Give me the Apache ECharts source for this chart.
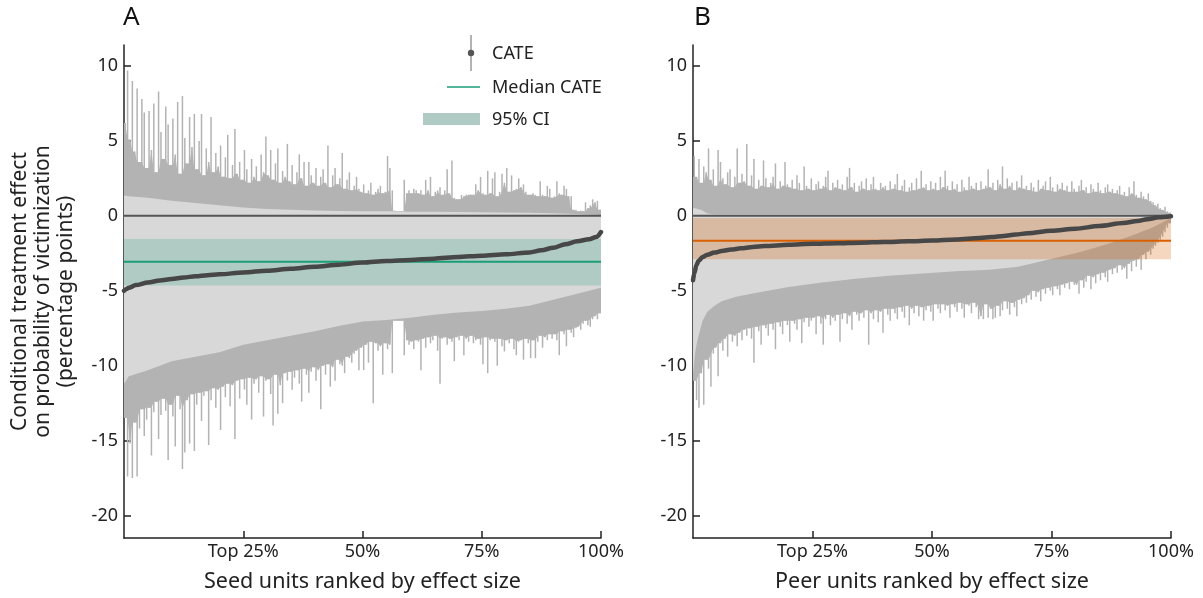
<!DOCTYPE html>
<html><head><meta charset="utf-8">
<script src="https://cdn.jsdelivr.net/npm/echarts@6/dist/echarts.min.js"></script>
<style>html,body{margin:0;padding:0;background:#fff}#c{width:1203px;height:598px}</style>
</head><body><div id="c"></div>
<script>
// ---------- DATA ----------
const xTicks = [25, 50, 75, 100];
const xTickLabels = ['Top 25%', '50%', '75%', '100%'];
const yTicks = [-20, -15, -10, -5, 0, 5, 10];

// Panel A: seed units
const seedCatePct = [0,0.5,1,2.5,5,7.5,10,12.5,15,17.5,20,25,30,35,40,45,50,55,60,65,70,75,80,85,87.5,90,92.5,95,97.5,99,100];
const seedCate = [-5.0,-4.88,-4.8,-4.62,-4.45,-4.32,-4.22,-4.12,-4.03,-3.96,-3.9,-3.78,-3.66,-3.53,-3.4,-3.26,-3.12,-3.01,-2.94,-2.86,-2.75,-2.66,-2.57,-2.44,-2.3,-2.13,-1.9,-1.7,-1.56,-1.42,-1.08];
const seedMedian = -3.07;
const seedMedianCI = [-1.55, -4.65];
const seedUpper = [
 6.2,9.7,5.1,9.0,4.3,8.5,3.6,7.8,6.9,3.2,7.0,4.4,7.5,2.9,8.3,5.6,3.8,7.3,6.1,3.4,
 6.5,4.1,7.6,2.8,8.0,5.2,3.5,6.6,4.6,6.8,3.1,5.0,6.8,2.7,4.5,3.6,6.6,2.9,4.2,3.3,
 4.7,2.6,3.9,5.4,2.5,3.4,5.8,2.8,3.6,2.4,4.4,3.1,2.2,3.8,2.6,3.3,2.3,4.1,2.9,5.3,
 2.7,4.4,2.4,3.5,4.5,2.2,3.0,2.6,4.8,2.3,3.4,2.1,2.9,4.1,2.5,3.6,2.0,3.6,2.7,2.2,
 3.2,2.0,2.6,3.1,2.2,4.7,1.9,2.7,3.2,2.1,2.5,4.2,1.8,2.4,2.9,1.7,2.0,2.6,1.8,1.6,
 2.1,1.5,1.7,2.2,1.4,1.6,1.8,2.0,1.5,1.6,4.0,3.2,1.7,0.35,0.3,0.3,0.3,2.4,1.5,1.7,
 1.5,1.8,1.7,1.5,1.7,1.4,2.4,1.7,2.6,1.3,1.6,1.7,1.9,1.4,1.7,3.1,1.5,3.7,1.2,1.1,
 1.1,1.4,1.3,1.4,1.4,1.4,1.4,2.1,1.7,2.6,1.5,1.4,3.0,1.5,2.5,2.9,1.3,1.6,2.8,2.2,
 3.2,1.6,2.7,1.7,1.8,2.5,1.9,2.1,1.6,1.4,1.4,1.5,1.4,1.3,2.3,1.4,1.3,2.0,1.8,1.2,
 1.3,2.3,1.5,1.4,2.0,1.8,1.3,1.3,0.4,0.4,0.3,0.35,0.3,0.9,0.5,0.7,1.1,0.9,1.0,0.4];
const seedLower = [
 -13.5,-17.4,-15.2,-17.5,-13.8,-17.4,-14.2,-12.9,-14.7,-13.6,-12.8,-16.0,-13.1,-12.4,-14.9,-13.3,-12.2,-13.0,-16.3,-12.6,
 -13.4,-15.4,-12.0,-12.9,-16.9,-15.8,-12.3,-15.2,-11.9,-15.7,-12.6,-11.8,-13.7,-12.0,-11.7,-15.3,-12.3,-11.5,-12.8,-11.6,
 -14.3,-11.4,-12.1,-11.2,-12.7,-11.3,-14.9,-11.0,-12.2,-10.9,-11.6,-12.6,-10.8,-13.6,-11.2,-10.9,-11.8,-10.7,-13.4,-11.0,
 -10.9,-11.9,-14.0,-10.6,-13.2,-11.3,-12.5,-10.5,-11.0,-10.4,-11.6,-10.8,-10.3,-11.2,-12.4,-10.2,-10.6,-11.8,-10.4,-10.1,
 -11.0,-10.3,-12.9,-10.0,-10.6,-9.9,-11.4,-10.1,-11.0,-9.6,-9.9,-10.0,-10.5,-9.4,-9.5,-9.8,-9.2,-9.0,-10.3,-8.8,
 -10.3,-8.6,-9.8,-8.4,-12.5,-8.5,-9.0,-8.7,-10.6,-8.5,-8.9,-8.6,-10.5,-7.0,-7.0,-7.0,-7.0,-9.3,-8.3,-8.6,
 -8.4,-8.9,-8.3,-8.4,-10.3,-8.2,-8.8,-8.1,-8.5,-8.3,-8.0,-9.0,-11.2,-8.2,-8.1,-8.6,-8.2,-8.4,-9.7,-8.1,
 -8.3,-8.0,-9.3,-8.2,-8.4,-8.0,-8.5,-8.3,-8.2,-8.6,-9.9,-8.1,-10.5,-8.3,-8.2,-8.4,-10.0,-8.2,-8.7,-9.05,
 -8.3,-8.5,-8.2,-8.9,-9.3,-8.4,-8.3,-9.6,-8.2,-8.5,-9.5,-8.3,-9.5,-8.4,-8.0,-8.8,-8.1,-8.3,-7.9,-8.2,
 -7.9,-8.3,-9.3,-7.7,-7.9,-8.7,-7.6,-7.8,-8.1,-7.5,-7.4,-7.6,-7.2,-7.0,-7.3,-7.4,-6.9,-6.7,-6.9,-6.5];
const seedBandPct = [0,1,5,10,15,20,25,30,35,40,45,50,55,60,65,70,75,80,85,90,95,100];
const seedBandHi = [1.35,1.3,1.2,1.0,0.85,0.7,0.55,0.45,0.4,0.35,0.32,0.3,0.3,0.28,0.27,0.25,0.24,0.22,0.2,0.18,0.12,0.05];
const seedBandLo = [-11.2,-10.7,-10.3,-9.7,-9.4,-9.1,-8.6,-8.3,-8.0,-7.7,-7.35,-7.05,-6.95,-6.8,-6.6,-6.45,-6.35,-6.2,-6.0,-5.6,-5.2,-4.8];

// Panel B: peer units
const peerCatePct = [0,0.3,0.7,1.2,2,3,4.5,6,8,10,12.5,15,20,25,30,35,40,45,50,55,60,62.5,65,67.5,70,75,80,85,90,93,95,97.5,100];
const peerCate = [-4.3,-3.8,-3.3,-3.0,-2.75,-2.6,-2.45,-2.35,-2.25,-2.17,-2.08,-2.02,-1.93,-1.87,-1.83,-1.79,-1.75,-1.7,-1.65,-1.58,-1.48,-1.42,-1.34,-1.25,-1.16,-1.0,-0.86,-0.68,-0.48,-0.34,-0.23,-0.1,-0.03];
const peerMedian = -1.66;
const peerMedianCI = [-0.15, -2.9];
const peerUpper = [
 4.0,2.6,3.8,2.2,3.3,2.9,4.5,2.4,3.1,2.0,4.4,3.6,2.5,2.1,2.9,3.1,1.9,2.6,4.5,2.2,
 2.8,2.3,4.8,2.0,2.7,3.8,1.8,2.4,2.0,3.7,2.5,1.9,2.2,2.6,3.5,1.8,2.3,2.0,3.6,2.1,
 1.9,2.4,1.8,2.7,2.2,1.7,3.3,2.0,1.8,2.5,1.7,2.1,2.3,1.8,2.0,2.6,3.0,1.7,2.2,1.9,
 2.4,1.8,2.1,1.7,2.6,3.2,1.9,2.2,1.6,2.0,2.3,1.8,2.5,1.7,2.1,2.6,1.8,1.7,2.2,1.9,
 2.0,1.7,2.3,1.8,2.1,2.8,1.7,2.0,2.4,1.6,1.9,2.2,1.7,2.5,1.8,3.0,1.9,2.1,1.7,2.3,
 1.8,2.2,1.7,2.6,1.9,3.0,2.0,1.7,2.3,1.8,2.1,1.6,2.4,1.9,1.7,2.6,2.0,1.8,2.2,1.7,
 2.3,1.8,2.0,3.1,1.9,2.2,1.7,2.4,2.1,3.3,1.8,2.5,2.0,2.2,1.7,2.3,1.9,2.7,1.8,2.0,
 1.7,2.2,1.9,1.6,2.4,1.8,2.0,2.3,1.7,2.6,1.9,1.6,2.1,1.8,2.2,1.7,2.0,1.6,2.3,1.8,
 1.6,2.0,2.4,1.7,1.9,1.5,2.1,1.8,1.6,2.2,1.7,1.5,1.9,2.1,1.6,1.8,1.5,1.7,2.0,1.4,
 1.6,1.3,1.9,1.5,2.3,1.4,1.2,1.6,1.3,1.1,1.5,1.0,0.9,0.7,0.8,0.5,0.4,0.6,0.3,0.2];
const peerLower = [
 -11.0,-12.3,-12.8,-10.5,-12.6,-9.6,-10.2,-11.4,-9.2,-8.8,-10.7,-8.5,-9.0,-8.2,-9.4,-7.9,-8.4,-8.0,-8.7,-7.8,
 -8.3,-7.6,-8.0,-7.5,-8.2,-9.8,-7.4,-7.7,-8.6,-7.3,-7.5,-8.0,-7.2,-7.6,-8.9,-7.1,-7.4,-7.9,-7.0,-7.3,
 -8.4,-7.0,-7.2,-7.6,-6.9,-8.5,-7.1,-6.8,-7.4,-7.0,-6.8,-7.9,-6.7,-7.2,-8.6,-6.9,-6.6,-7.3,-6.8,-7.0,
 -6.6,-8.4,-6.9,-6.5,-7.2,-6.7,-7.6,-6.4,-6.6,-7.0,-6.5,-6.8,-6.3,-8.6,-6.5,-6.9,-6.3,-7.1,-6.4,-7.8,
 -6.2,-6.6,-7.0,-6.2,-6.5,-6.9,-6.1,-6.4,-6.8,-6.0,-7.3,-6.2,-6.5,-6.0,-6.7,-6.1,-7.0,-6.3,-6.0,-6.4,
 -7.0,-5.9,-6.2,-6.5,-5.9,-6.3,-6.0,-6.8,-5.9,-6.1,-6.4,-5.8,-6.2,-6.8,-5.9,-6.0,-6.5,-5.8,-6.1,-6.9,
 -6.7,-6.9,-5.9,-6.8,-6.2,-6.9,-6.8,-6.0,-6.7,-6.3,-5.7,-6.2,-6.6,-5.8,-6.1,-6.7,-5.6,-5.9,-5.5,-5.8,
 -5.3,-5.6,-5.0,-5.4,-5.1,-5.7,-4.9,-5.2,-4.8,-5.0,-5.3,-4.7,-4.9,-5.3,-4.6,-4.8,-4.5,-4.9,-4.4,-4.6,
 -4.6,-5.2,-4.3,-4.8,-4.4,-4.0,-4.9,-4.1,-4.5,-3.9,-4.3,-3.8,-4.1,-4.4,-3.6,-3.9,-3.5,-3.8,-3.3,-3.6,
 -3.5,-4.2,-3.2,-3.7,-3.0,-3.4,-2.9,-3.6,-2.6,-2.9,-2.4,-2.6,-2.2,-2.0,-1.8,-1.6,-1.4,-1.1,-0.8,-0.5];
const peerBandPct = [0,0.5,1,2,3,4.5,6,9,13,20,27,34,41,48,55,62,68,72,76,80,84,88,92,96,100];
const peerBandHi = [0.5,0.5,0.45,0.35,0.15,0.1,0.1,0.1,0.1,0.1,0.1,0.1,0.1,0.1,0.1,0.1,0.1,0.1,0.1,0.1,0.1,0.1,0.1,0.05,0.0];
const peerBandLo = [-10.5,-9.0,-8.2,-7.0,-6.4,-6.0,-5.7,-5.4,-5.15,-4.75,-4.45,-4.2,-4.0,-3.85,-3.7,-3.6,-3.4,-3.1,-2.8,-2.5,-2.15,-1.75,-1.3,-0.8,-0.15];

// ---------- STYLE ----------
const FONT = 'Noto Sans';
const INK = '#222';
const Y_MIN = -21.5, Y_MAX = 11.4;
const SPIKE = '#b3b3b3', LIGHT = '#d8d8d8', CURVE = '#474747', ZERO = '#555';

function spikeData(lo, hi) {
  const n = lo.length;
  return lo.map((l, i) => [(i + 0.5) * 100 / n, l, hi[i]]);
}
// each unit's CI as a thin vertical line
function spikeRender(params, api) {
  const x = api.value(0), lo = api.value(1), hi = api.value(2);
  const t = api.coord([x, hi]), b = api.coord([x, lo]);
  return { type: 'rect', shape: { x: t[0] - 0.75, y: t[1], width: 1.5, height: b[1] - t[1] }, style: { fill: SPIKE } };
}
// dense core: the CI region shared by neighbouring units
function coreRender(lo, hi) {
  return function (params, api) {
    const n = lo.length, pts = [];
    const h = i => Math.min(hi[Math.max(i - 1, 0)], hi[i], hi[Math.min(i + 1, n - 1)]);
    const l = i => Math.max(lo[Math.max(i - 1, 0)], lo[i], lo[Math.min(i + 1, n - 1)]);
    pts.push(api.coord([0, h(0)]));
    for (let i = 0; i < n; i++) pts.push(api.coord([(i + 0.5) * 100 / n, h(i)]));
    pts.push(api.coord([100, h(n - 1)]));
    pts.push(api.coord([100, l(n - 1)]));
    for (let i = n - 1; i >= 0; i--) pts.push(api.coord([(i + 0.5) * 100 / n, l(i)]));
    pts.push(api.coord([0, l(0)]));
    return { type: 'polygon', shape: { points: pts }, style: { fill: SPIKE } };
  };
}
function polyRender(pcts, his, los, fill) {
  return function (params, api) {
    const pts = [];
    for (let i = 0; i < pcts.length; i++) pts.push(api.coord([pcts[i], his[i]]));
    for (let i = pcts.length - 1; i >= 0; i--) pts.push(api.coord([pcts[i], los[i]]));
    return { type: 'polygon', shape: { points: pts }, style: { fill: fill } };
  };
}
function zip(a, b) { return a.map((v, i) => [v, b[i]]); }

function axesFor(idx, xname, yname) {
  const x = {
    gridIndex: idx, type: 'value', min: 0, max: 100,
    axisLine: { show: true, onZero: false, lineStyle: { color: INK, width: 1.5 } },
    axisTick: { show: true, inside: true, length: 7, customValues: xTicks, lineStyle: { color: INK, width: 1.5 } },
    axisLabel: { customValues: xTicks, formatter: v => xTickLabels[xTicks.indexOf(v)], color: INK, fontSize: 18, fontFamily: FONT, margin: 5 },
    splitLine: { show: false },
    name: xname, nameLocation: 'middle', nameGap: 33,
    nameTextStyle: { fontSize: 21.5, color: INK, fontFamily: FONT }
  };
  const y = {
    gridIndex: idx, type: 'value', min: Y_MIN, max: Y_MAX,
    axisLine: { show: true, onZero: false, lineStyle: { color: INK, width: 1.5 } },
    axisTick: { show: true, inside: true, length: 7, customValues: yTicks, lineStyle: { color: INK, width: 1.5 } },
    axisLabel: { customValues: yTicks, color: INK, fontSize: 18, fontFamily: FONT, margin: 6 },
    splitLine: { show: false }
  };
  if (yname) {
    y.name = yname; y.nameLocation = 'middle'; y.nameRotate = 90; y.nameGap = 46;
    y.nameTextStyle = { fontSize: 21, color: INK, fontFamily: FONT, lineHeight: 23, align: 'center' };
  }
  return [x, y];
}

function panelSeries(idx, lo, hi, bandPct, bandHi, bandLo, ciRange, ciFill, median, medColor, catePct, cate) {
  return [
    { type: 'custom', xAxisIndex: idx, yAxisIndex: idx, data: spikeData(lo, hi), renderItem: spikeRender, z: 1, silent: true },
    { type: 'custom', xAxisIndex: idx, yAxisIndex: idx, data: [[0, 0]], renderItem: coreRender(lo, hi), z: 1, silent: true },
    { type: 'custom', xAxisIndex: idx, yAxisIndex: idx, data: [[0, 0]], renderItem: polyRender(bandPct, bandHi, bandLo, LIGHT), z: 2, silent: true },
    { type: 'custom', xAxisIndex: idx, yAxisIndex: idx, data: [[0, 0]], renderItem: polyRender([0, 100], [ciRange[0], ciRange[0]], [ciRange[1], ciRange[1]], ciFill), z: 3, silent: true },
    { type: 'line', xAxisIndex: idx, yAxisIndex: idx, data: [[0, 0], [100, 0]], showSymbol: false, lineStyle: { color: ZERO, width: 2 }, z: 4, silent: true },
    { type: 'line', xAxisIndex: idx, yAxisIndex: idx, data: [[0, median], [100, median]], showSymbol: false, lineStyle: { color: medColor, width: 2 }, z: 5, silent: true },
    { type: 'line', xAxisIndex: idx, yAxisIndex: idx, data: zip(catePct, cate), showSymbol: false, smooth: 0.3, smoothMonotone: 'x',
      lineStyle: { color: CURVE, width: 4.5, cap: 'round', join: 'round' }, z: 6, silent: true }
  ];
}

const axA = axesFor(0, 'Seed units ranked by effect size', 'Conditional treatment effect\non probability of victimization\n(percentage points)');
const axB = axesFor(1, 'Peer units ranked by effect size', null);

const chart = echarts.init(document.getElementById('c'), null, { renderer: 'canvas' });
chart.setOption({
  animation: false,
  backgroundColor: '#fff',
  grid: [
    { left: 124, right: 602, top: 45, bottom: 60 },
    { left: 693, right: 32, top: 45, bottom: 60 }
  ],
  xAxis: [axA[0], axB[0]],
  yAxis: [axA[1], axB[1]],
  series: [].concat(
    panelSeries(0, seedLower, seedUpper, seedBandPct, seedBandHi, seedBandLo, seedMedianCI, '#afcbc3', seedMedian, '#1b9e77', seedCatePct, seedCate),
    panelSeries(1, peerLower, peerUpper, peerBandPct, peerBandHi, peerBandLo, peerMedianCI, 'rgba(217,95,2,0.25)', peerMedian, '#d95f02', peerCatePct, peerCate)
  ),
  graphic: [
    { type: 'text', left: 123, top: 5, style: { text: 'A', fontSize: 26, fontFamily: FONT, fill: '#111' } },
    { type: 'text', left: 694, top: 5, style: { text: 'B', fontSize: 26, fontFamily: FONT, fill: '#111' } },
    { type: 'line', shape: { x1: 471, y1: 35, x2: 471, y2: 71 }, style: { stroke: '#9a9a9a', lineWidth: 1.5 } },
    { type: 'circle', shape: { cx: 471, cy: 53, r: 3.2 }, style: { fill: '#555' } },
    { type: 'text', x: 492, y: 54, style: { text: 'CATE', fontSize: 18, fontFamily: FONT, fill: INK, verticalAlign: 'middle' } },
    { type: 'line', shape: { x1: 447, y1: 87, x2: 480, y2: 87 }, style: { stroke: '#1b9e77', lineWidth: 1.5 } },
    { type: 'text', x: 492, y: 88, style: { text: 'Median CATE', fontSize: 18, fontFamily: FONT, fill: INK, verticalAlign: 'middle' } },
    { type: 'rect', shape: { x: 423, y: 113, width: 57, height: 12 }, style: { fill: '#afcbc3' } },
    { type: 'text', x: 492, y: 120, style: { text: '95% CI', fontSize: 18, fontFamily: FONT, fill: INK, verticalAlign: 'middle' } }
  ]
});
</script></body></html>
